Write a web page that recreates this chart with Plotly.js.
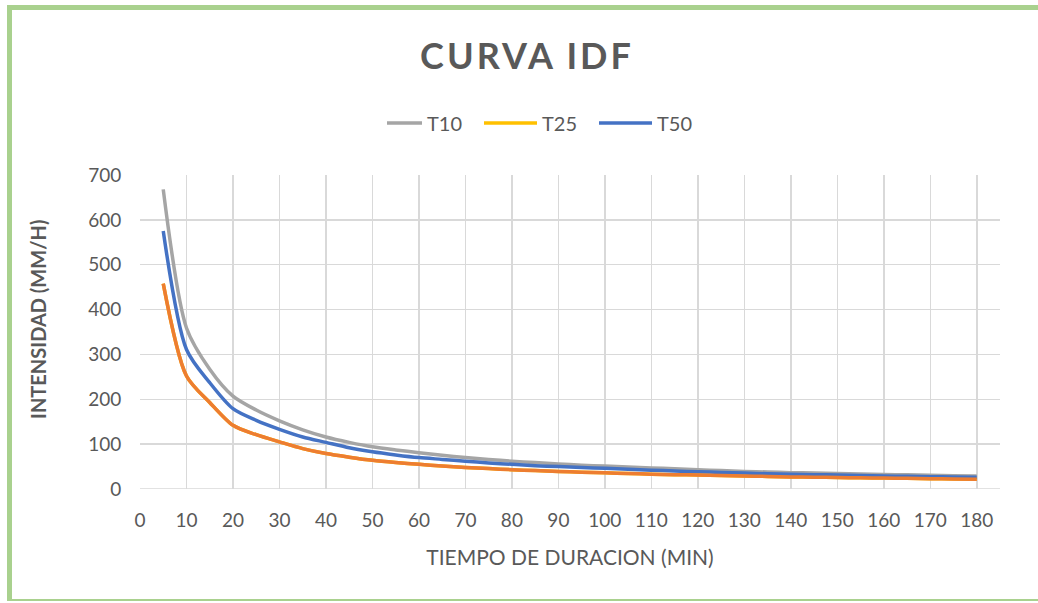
<!DOCTYPE html>
<html>
<head>
<meta charset="utf-8">
<script src="https://cdn.plot.ly/plotly-3.0.1.min.js"></script>
<style>
  html, body { margin: 0; padding: 0; background: #ffffff; overflow: hidden; }
  #frame {
    position: absolute; left: 7px; top: 5px; width: 1040px; height: 589px;
    border-left: 5px solid #A9D18E; border-top: 5px solid #A9D18E; border-bottom: 2px solid #A9D18E;
    background: #ffffff;
  }
  #chart { position: absolute; left: 0; top: 0; width: 1038px; height: 603px; }
  .gtitle { letter-spacing: 3px; }
</style>
</head>
<body>
<div id="frame"></div>
<div id="chart"></div>
<script>
// Duration (min)
const duracion = [5, 10, 15, 20, 25, 30, 35, 40, 45, 50, 55, 60, 65, 70, 75, 80, 85, 90,
  95, 100, 105, 110, 115, 120, 125, 130, 135, 140, 145, 150, 155, 160, 165, 170, 175, 180];

// Intensity (mm/h)
const t10 = [668, 359, 267, 207, 176, 152, 132, 116, 104, 94, 87, 81, 75, 70, 66, 62, 59, 56,
  53, 51, 49, 47, 45, 43, 41, 39, 38, 36.5, 35.5, 34.5, 33.5, 32.5, 31.5, 30.5, 29.8, 29];
const t25 = [458, 252, 193, 142, 121, 105, 90, 79, 71, 64, 59, 55, 51, 48, 45.5, 43, 41, 39,
  37.5, 36, 34.5, 33, 32, 31, 30, 29, 28, 27, 26.3, 25.6, 25, 24.3, 23.7, 23.1, 22.5, 22];
const t50 = [575, 311, 237, 179, 153, 133, 116, 104, 92, 83, 76, 70, 66, 62, 58, 55, 52, 50,
  48, 46, 44, 42, 40, 38.5, 37, 35.5, 34, 33, 32, 31, 30, 29, 28.2, 27.5, 26.8, 26];

const xTicks = [0, 10, 20, 30, 40, 50, 60, 70, 80, 90, 100, 110, 120, 130, 140, 150, 160, 170, 180];
const yTicks = [0, 100, 200, 300, 400, 500, 600, 700];

const FONT = 'Lato, "Open Sans", sans-serif';
const GRAY = '#595959';
const LW = 3.5;
const SMOOTH = { shape: 'spline', smoothing: 0.8 };

const traces = [
  { x: duracion, y: t10, name: 'T10', mode: 'lines', line: Object.assign({ color: '#A5A5A5', width: LW }, SMOOTH) },
  { x: duracion, y: t25, name: 'T25', mode: 'lines', line: Object.assign({ color: '#FFC000', width: LW }, SMOOTH) },
  { x: duracion, y: t50, name: 'T50', mode: 'lines', line: Object.assign({ color: '#4472C4', width: LW }, SMOOTH) },
  { x: duracion, y: t25, name: 'T25 ', mode: 'lines', showlegend: false, line: Object.assign({ color: '#ED7D31', width: LW }, SMOOTH) }
];

const layout = {
  width: 1038, height: 603,
  margin: { l: 140, r: 38, t: 175, b: 114 },
  paper_bgcolor: 'rgba(0,0,0,0)',
  plot_bgcolor: '#ffffff',
  font: { family: FONT, color: GRAY, size: 19 },
  title: {
    text: '<b>CURVA IDF</b>',
    font: { family: FONT, size: 36, color: GRAY },
    x: 0.45, xanchor: 'center', xref: 'paper',
    y: 1 - 56 / 603, yref: 'container', yanchor: 'middle'
  },
  showlegend: true,
  legend: {
    orientation: 'h', x: (387 - 140) / 860, xanchor: 'left', y: 1.166, yanchor: 'middle',
    entrywidth: 70, entrywidthmode: 'pixels',
    font: { family: FONT, size: 20, color: GRAY }, traceorder: 'normal'
  },
  xaxis: {
    range: [0, 185], tickvals: xTicks, ticktext: xTicks.map(String),
    showgrid: true, gridcolor: '#D9D9D9', gridwidth: 1.5,
    zeroline: false, showline: false,
    ticks: 'outside', ticklen: 14, tickcolor: 'rgba(0,0,0,0)',
    tickfont: { family: FONT, size: 19, color: GRAY },
    title: { text: 'TIEMPO DE DURACION (MIN)', font: { family: FONT, size: 21, color: GRAY }, standoff: 20 }
  },
  yaxis: {
    range: [0, 700], tickvals: yTicks, ticktext: yTicks.map(String),
    showgrid: true, gridcolor: '#D9D9D9', gridwidth: 1.5,
    zeroline: false, showline: false,
    ticks: 'outside', ticklen: 14, tickcolor: 'rgba(0,0,0,0)',
    tickfont: { family: FONT, size: 19, color: GRAY }
  },
  annotations: [
    { text: '<b>INTENSIDAD (MM/H)</b>', xref: 'paper', yref: 'paper',
      x: (38 - 140) / 860, y: (489 - 320) / 314, xanchor: 'center', yanchor: 'middle',
      textangle: -90, showarrow: false, font: { family: FONT, size: 20, color: GRAY } }
  ],
  shapes: [
    { type: 'line', xref: 'paper', yref: 'y', x0: 0, x1: 1, y0: 0, y1: 0, line: { color: '#D9D9D9', width: 1.5 }, layer: 'below' }
  ]
};

Plotly.newPlot('chart', traces, layout, { displayModeBar: false, staticPlot: true }).then(function (gd) {
  // Lengthen legend line samples to match the reference
  gd.querySelectorAll('.legend .legendlines path').forEach(function (p) {
    p.setAttribute('d', 'M-18,0h53');
  });
});
</script>
</body>
</html>
